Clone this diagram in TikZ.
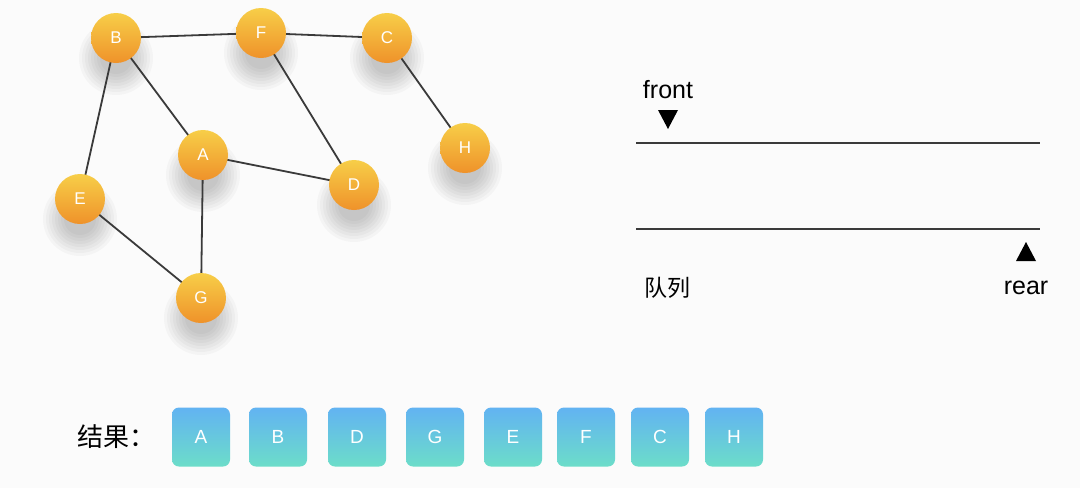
\documentclass[tikz,border=0pt]{standalone}
\usepackage{fontspec}
\setmainfont{Liberation Sans}
\newfontfamily\cjk{Noto Sans CJK SC}
\definecolor{ntop}{HTML}{F7CE48}
\definecolor{nbot}{HTML}{EF922A}
\definecolor{btop}{HTML}{62B3F2}
\definecolor{bbot}{HTML}{6CDDC9}
\definecolor{edgec}{HTML}{3A3A3A}
\definecolor{bg}{HTML}{FBFBFB}
\tikzset{
  gnode/.style={circle, minimum size=50pt, inner sep=0pt, top color=ntop, bottom color=nbot, text=white, font=\fontsize{17}{17}\selectfont},
  rbox/.style={rounded corners=7pt, minimum width=58pt, minimum height=59pt, inner sep=0pt, top color=btop, bottom color=bbot, text=white, font=\fontsize{19}{19}\selectfont},
  gedge/.style={draw=edgec, line width=1.8pt},
  qline/.style={draw=edgec, line width=1.4pt},
  tri/.style={fill=black, draw=none},
}
\begin{document}
\begin{tikzpicture}[x=1pt,y=-1pt]
\fill[bg] (0,0) rectangle (1080,488);
\useasboundingbox (0,0) rectangle (1080,488);
% soft shadows
\foreach \x/\y in {116/38, 261/33, 387/38, 465/148, 203/155, 354/185, 80/199, 201/298}{
  \foreach \r in {16,19,...,37}{
    \fill[black, opacity=0.028] (\x,\y+20) circle (\r pt);
  }
}
% edges
\coordinate (pB) at (116,38);
\coordinate (pF) at (261,33);
\coordinate (pC) at (387,38);
\coordinate (pH) at (465,148);
\coordinate (pA) at (203,155);
\coordinate (pD) at (354,185);
\coordinate (pE) at (80,199);
\coordinate (pG) at (201,298);
\draw[gedge] (pB) -- (pF);
\draw[gedge] (pF) -- (pC);
\draw[gedge] (pC) -- (pH);
\draw[gedge] (pB) -- (pA);
\draw[gedge] (pB) -- (pE);
\draw[gedge] (pF) -- (pD);
\draw[gedge] (pA) -- (pD);
\draw[gedge] (pA) -- (pG);
\draw[gedge] (pE) -- (pG);
% nodes
\node[gnode] (B) at (pB) {B};
\node[gnode] (F) at (pF) {F};
\node[gnode] (C) at (pC) {C};
\node[gnode] (H) at (pH) {H};
\node[gnode] (A) at (pA) {A};
\node[gnode] (D) at (pD) {D};
\node[gnode] (E) at (pE) {E};
\node[gnode] (G) at (pG) {G};
% queue
\coordinate (q1l) at (636,143);
\coordinate (q1r) at (1040,143);
\coordinate (q2l) at (636,229);
\coordinate (q2r) at (1040,229);
\draw[qline] (q1l) -- (q1r);
\draw[qline] (q2l) -- (q2r);
\node[font=\fontsize{25}{25}\selectfont] (front) at (668,90) {front};
\fill[tri] (658,110) -- (678,110) -- (668,129) -- cycle;
\fill[tri] (1016,261) -- (1036,261) -- (1026,242) -- cycle;
\node[font=\fontsize{25}{25}\selectfont] (rear) at (1026,288) {rear};
\node[font=\cjk\fontsize{23}{23}\selectfont] (queue) at (667,288) {队列};
% result
\node[font=\cjk\fontsize{26}{26}\selectfont, anchor=west] (res) at (74,437) {结果：};
\node[rbox] (r1) at (201,437) {A};
\node[rbox] (r2) at (278,437) {B};
\node[rbox] (r3) at (357,437) {D};
\node[rbox] (r4) at (435,437) {G};
\node[rbox] (r5) at (513,437) {E};
\node[rbox] (r6) at (586,437) {F};
\node[rbox] (r7) at (660,437) {C};
\node[rbox] (r8) at (734,437) {H};
\end{tikzpicture}
\end{document}
